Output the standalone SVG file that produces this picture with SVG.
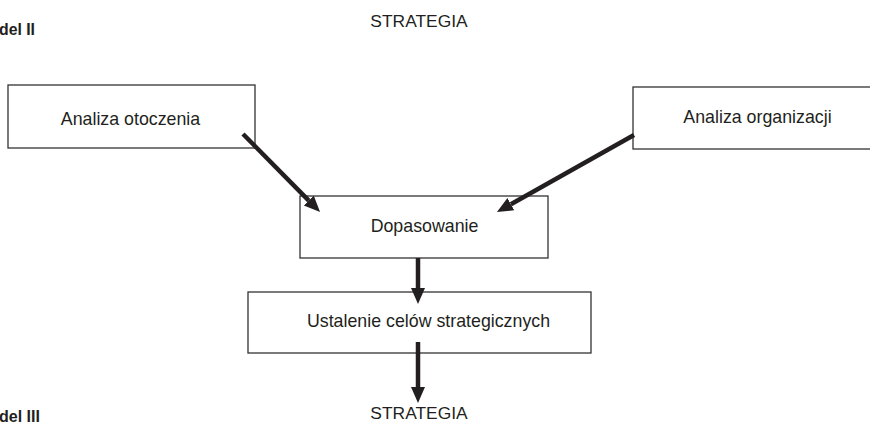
<svg xmlns="http://www.w3.org/2000/svg" width="870" height="422" viewBox="0 0 870 422">
<style>
.box{fill:#ffffff;stroke:#333333;stroke-width:1.3}
.t{font-family:"Liberation Sans",Arial,sans-serif;font-size:17.8px;fill:#231f20;text-anchor:middle}
.s{font-family:"Liberation Sans",Arial,sans-serif;font-size:17.4px;fill:#231f20;text-anchor:middle}
.b{font-family:"Liberation Sans",Arial,sans-serif;font-size:17px;font-weight:bold;fill:#231f20}
.c{stroke:#231f20;stroke-width:4.5;fill:none}
</style>
<defs>
<marker id="ah" markerUnits="userSpaceOnUse" markerWidth="17" markerHeight="15" refX="0" refY="7" orient="auto">
<path d="M0,0 L16,7 L0,14 z" fill="#231f20"/>
</marker>
</defs>
<rect width="870" height="422" fill="#ffffff"/>
<text class="b" x="-1" y="35" textLength="36" lengthAdjust="spacingAndGlyphs">del II</text>
<text class="b" x="-1" y="421.5" textLength="41" lengthAdjust="spacingAndGlyphs">del III</text>
<text class="s" x="419" y="27">STRATEGIA</text>
<text class="s" x="419" y="419">STRATEGIA</text>
<g id="analiza-otoczenia">
<rect class="box" x="8" y="85" width="247" height="63"/>
<text class="t" x="130.5" y="125">Analiza otoczenia</text>
</g>
<g id="analiza-organizacji">
<rect class="box" x="633" y="87" width="250" height="62"/>
<text class="t" x="757.5" y="123">Analiza organizacji</text>
</g>
<g id="dopasowanie">
<rect class="box" x="300" y="196" width="248" height="62"/>
<text class="t" x="424.5" y="232">Dopasowanie</text>
</g>
<g id="ustalenie">
<rect class="box" x="248" y="292" width="343" height="61"/>
<text class="t" x="428.5" y="327">Ustalenie celów strategicznych</text>
</g>
<g id="connectors">
<line class="c" x1="243" y1="134" x2="308.8" y2="200.6" marker-end="url(#ah)"/>
<line class="c" x1="634" y1="135" x2="510.9" y2="204.2" marker-end="url(#ah)"/>
<line class="c" x1="418" y1="258" x2="418" y2="288" marker-end="url(#ah)"/>
<line class="c" x1="418" y1="342" x2="418" y2="387" marker-end="url(#ah)"/>
</g>
</svg>
